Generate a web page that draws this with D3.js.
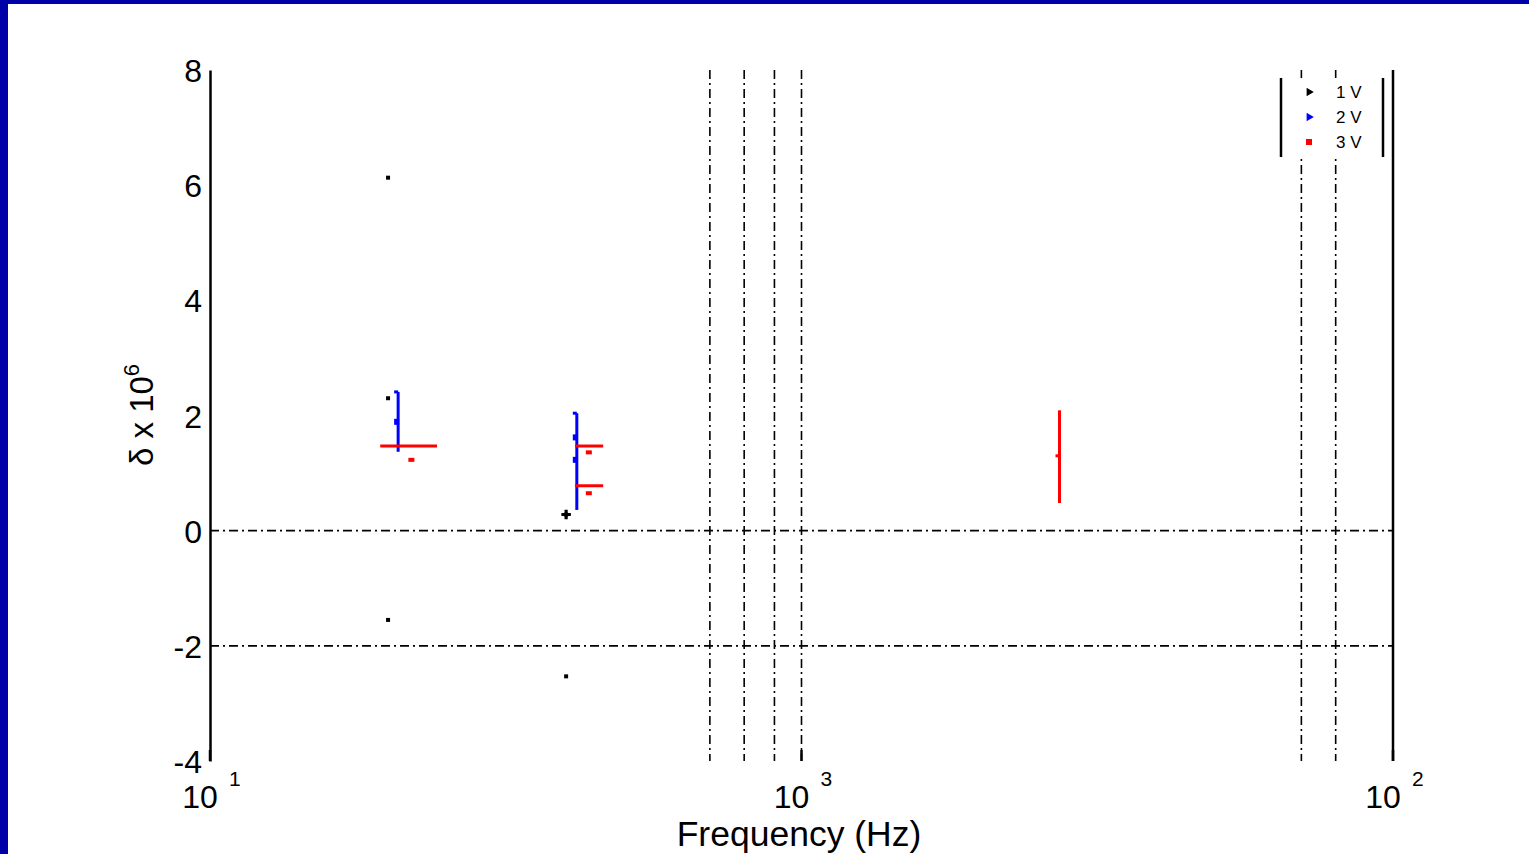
<!DOCTYPE html>
<html><head><meta charset="utf-8">
<script src="https://cdn.jsdelivr.net/npm/d3@7"></script>
<style>html,body{margin:0;padding:0;background:#fff;overflow:hidden}text{font-family:"Liberation Sans",Arial,sans-serif}</style>
</head><body><svg id="c" width="1529" height="854"></svg>
<script>
// ---- data ----
const yTicks = [-4,-2,0,2,4,6,8];
const xTicks = [10,100,1000];
const xTickSup = ["1","3","2"];
const hRefLines = [0,-2];
const vRefLines = [70,80,90,100,700,800];
const legendLabels = ["1 V","2 V","3 V"];
const seriesColors = ["#000000","#0000ff","#ff0000"];
// 1 V (black) points
const blackF = [20,20,20,40,40];
const blackV = [6.13,2.30,-1.55,0.28,-2.53];
// 2 V (blue) vertical bars
const blueF = [20.8,41.7];
const blueLo = [1.37,0.36];
const blueHi = [2.41,2.04];
const blueMarks = [[1.89],[1.62,1.23]];
// 3 V (red) horizontal bars
const redHv = [1.47,1.47,0.78];
const redHf0 = [19.4,41.4,41.4];
const redHf1 = [24.2,46.2,46.2];
// 3 V (red) points
const redPf = [21.9,43.7,43.7];
const redPv = [1.23,1.36,0.65];
// 3 V (red) vertical bar
const redVf = [273];
const redVlo = [0.48];
const redVhi = [2.09];
const redVmid = [1.30];

const svg = d3.select("#c");
svg.append("rect").attr("width",1529).attr("height",854).attr("fill","#0000a8");
svg.append("rect").attr("x",8).attr("y",4).attr("width",1521).attr("height",850).attr("fill","#fff");

const x = d3.scaleLog().domain([10,1000]).range([210,1393]);
const y = d3.scaleLinear().domain([-4,8]).range([761,70]);
const dash = "9,4,2,4";

// reference lines
svg.selectAll(".hr").data(hRefLines).enter().append("line")
  .attr("x1",x(10)).attr("x2",x(1000)).attr("y1",d=>y(d)).attr("y2",d=>y(d))
  .attr("stroke","#000").attr("stroke-width",1.6).attr("stroke-dasharray",dash);
svg.selectAll(".vr").data(vRefLines).enter().append("line")
  .attr("x1",d=>x(d)).attr("x2",d=>x(d)).attr("y1",y(8)).attr("y2",y(-4))
  .attr("stroke","#000").attr("stroke-width",1.6).attr("stroke-dasharray",dash);

// axes
const yAxis = d3.axisLeft(y).tickValues(yTicks).tickSize(0).tickPadding(8).tickFormat(d=>String(d));
const gy = svg.append("g").attr("transform",`translate(${x(10)},0)`).call(yAxis);
gy.select(".domain").attr("stroke","#000").attr("stroke-width",2.5);
gy.selectAll("text").attr("font-size",32).attr("fill","#000").attr("font-family","Liberation Sans, Arial, sans-serif").attr("dy","0.36em");
svg.append("line").attr("x1",x(1000)).attr("x2",x(1000)).attr("y1",y(8)).attr("y2",y(-4)).attr("stroke","#000").attr("stroke-width",2.5);

const xAxis = d3.axisBottom(x).tickValues(xTicks).tickSize(0).tickFormat(()=>"");
const gx = svg.append("g").attr("transform",`translate(0,${y(-4)})`).call(xAxis);
gx.select(".domain").remove();
// tick marks
svg.selectAll(".xt").data(xTicks).enter().append("line")
  .attr("x1",d=>x(d)).attr("x2",d=>x(d)).attr("y1",y(-4)-11).attr("y2",y(-4))
  .attr("stroke","#000").attr("stroke-width",2.5);
xTicks.forEach((t,i)=>{
  svg.append("text").attr("x",x(t)-10).attr("y",808).attr("text-anchor","middle").attr("font-size",32).attr("fill","#000").text("10");
  svg.append("text").attr("x",x(t)+19).attr("y",786).attr("font-size",21).attr("fill","#000").text(xTickSup[i]);
});

svg.append("text").attr("x",799).attr("y",846).attr("text-anchor","middle").attr("font-size",35.5).attr("fill","#000").text("Frequency (Hz)");
const yl = svg.append("text").attr("transform","translate(153,415) rotate(-90)").attr("text-anchor","middle").attr("font-size",33).attr("fill","#000");
yl.append("tspan").text("δ x 10");
yl.append("tspan").attr("dy",-14).attr("font-size",22).text("6");

// black points
svg.selectAll(".bp").data(blackF.map((f,i)=>({f,v:blackV[i]}))).enter().append("rect")
  .attr("x",d=>x(d.f)-2).attr("y",d=>y(d.v)-2).attr("width",4).attr("height",4).attr("fill","#000");
svg.append("path").attr("d",d3.symbol(d3.symbolCross,50)()).attr("transform",`translate(${x(blackF[3])},${y(blackV[3])})`).attr("fill","#000");

// blue bars
blueF.forEach((f,i)=>{
  svg.append("line").attr("x1",x(f)).attr("x2",x(f)).attr("y1",y(blueLo[i])).attr("y2",y(blueHi[i]))
    .attr("stroke",seriesColors[1]).attr("stroke-width",3);
  svg.append("line").attr("x1",x(f)-4).attr("x2",x(f)).attr("y1",y(blueHi[i])).attr("y2",y(blueHi[i]))
    .attr("stroke",seriesColors[1]).attr("stroke-width",3);
  blueMarks[i].forEach(v=>{
    svg.append("rect").attr("x",x(f)-4).attr("y",y(v)-3).attr("width",5).attr("height",6).attr("fill",seriesColors[1]);
  });
});

// red horizontal bars
redHv.forEach((v,i)=>{
  svg.append("line").attr("x1",x(redHf0[i])).attr("x2",x(redHf1[i])).attr("y1",y(v)).attr("y2",y(v))
    .attr("stroke",seriesColors[2]).attr("stroke-width",3);
});
redPf.forEach((f,i)=>{
  svg.append("rect").attr("x",x(f)-3).attr("y",y(redPv[i])-2).attr("width",6).attr("height",4).attr("fill",seriesColors[2]);
});
redVf.forEach((f,i)=>{
  svg.append("line").attr("x1",x(f)).attr("x2",x(f)).attr("y1",y(redVlo[i])).attr("y2",y(redVhi[i]))
    .attr("stroke",seriesColors[2]).attr("stroke-width",3);
  svg.append("line").attr("x1",x(f)-4).attr("x2",x(f)).attr("y1",y(redVmid[i])).attr("y2",y(redVmid[i]))
    .attr("stroke",seriesColors[2]).attr("stroke-width",3);
});

// legend
const lg = svg.append("g");
lg.append("rect").attr("x",1281).attr("y",78).attr("width",102).attr("height",79).attr("fill","#fff");
[1281,1383].forEach(lx=>lg.append("line").attr("x1",lx).attr("x2",lx).attr("y1",78).attr("y2",157).attr("stroke","#000").attr("stroke-width",2.5));
legendLabels.forEach((t,i)=>{
  const ly = 92 + i*25;
  if(i<2){
    lg.append("path").attr("d",d3.symbol(d3.symbolTriangle,30)()).attr("transform",`translate(1309,${ly}) rotate(90)`).attr("fill",seriesColors[i]);
  } else {
    lg.append("rect").attr("x",1306).attr("y",ly-3).attr("width",6).attr("height",6).attr("fill",seriesColors[i]);
  }
  lg.append("text").attr("x",1336).attr("y",ly+6).attr("font-size",17).attr("fill","#000").text(t);
});
</script></body></html>
